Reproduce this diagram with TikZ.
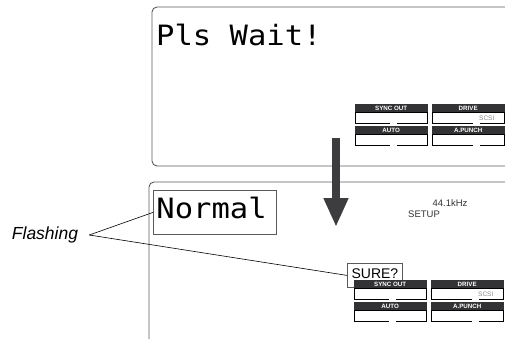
\documentclass[tikz,border=0pt]{standalone}
\usepackage{fontspec}
\setmainfont{Liberation Sans}
\newfontfamily\lcdfont{DejaVu Sans Mono}[FakeStretch=1.09]
\definecolor{lcdLine}{HTML}{5A5A5A}
\definecolor{lcdDark}{HTML}{333335}
\definecolor{lcdArrow}{HTML}{3D3D40}
\definecolor{lcdGrey}{HTML}{8A8A8A}
\usetikzlibrary{calc,positioning,arrows.meta}

\begin{document}
\begin{tikzpicture}[x=1pt, y=-1pt,
  lcdtext/.style={font=\lcdfont\fontsize{28}{30}\selectfont, inner sep=0pt},
  header/.style={fill=lcdDark, draw=lcdDark, text=white, minimum width=72pt, minimum height=8pt,
    inner sep=0pt, font=\fontsize{6.2}{6.2}\selectfont\bfseries},
  fieldbox/.style={draw=black, line width=0.7pt, minimum width=72pt, minimum height=11pt, inner sep=0pt},
  leader/.style={draw=black, line width=0.6pt}]
  \useasboundingbox (0,0) rectangle (505,340);

  % upper display — busy message
  \draw[lcdLine, line width=0.9pt, rounded corners=5pt] (506,7) -- (152,7) -- (152,166) -- (506,166);
  \node[lcdtext, anchor=base west] (wait) at (156,45) {Pls Wait!};

  % lower display — after the process
  \draw[lcdLine, line width=0.9pt, rounded corners=5pt] (506,182) -- (149,182) -- (149,339);
  \node[lcdtext, draw=lcdLine, line width=0.8pt, anchor=north west, text width=117pt, align=left,
    inner xsep=3pt, inner ysep=8pt, text height=20pt, text depth=8pt] (normal) at (153,190) {Normal};
  \node[font=\fontsize{9.5}{10}\selectfont, text=lcdDark] (rate) at (450,203) {44.1kHz};
  \node[font=\fontsize{9.5}{10}\selectfont, text=lcdDark] (setup) at (424,214) {SETUP};
  \node[draw=lcdLine, line width=0.8pt, fill=white, anchor=north west, minimum width=55pt,
    inner xsep=0pt, inner ysep=3pt, text height=12pt, text depth=6pt,
    font=\fontsize{14}{14}\selectfont] (sure) at (347,263) {SURE?};

  % status blocks of both displays
  \foreach \nm/\bx/\by/\lab/\gx in {syncA/355/104/SYNC OUT/35, driveA/432/104/DRIVE/41,
      autoA/355/126/AUTO/35, punchA/432/126/A.PUNCH/41,
      syncB/354/280/SYNC OUT/35, driveB/431/280/DRIVE/41,
      autoB/354/302/AUTO/35, punchB/431/302/A.PUNCH/41} {
    \node[header, anchor=north west] (\nm) at (\bx,\by) {\lab};
    \node[fieldbox, anchor=north] (\nm-f) at (\nm.south) {};
    \fill[white] ($(\nm-f.south west)+(\gx,-1.5)$) rectangle +(7,3);
  }
  \node[font=\fontsize{6.5}{6.5}\selectfont, text=lcdGrey, inner sep=0pt, anchor=east] (scsiA) at ([xshift=-10pt]driveA-f.east) {SCSI};
  \node[font=\fontsize{6.5}{6.5}\selectfont, text=lcdGrey, inner sep=0pt, anchor=east] (scsiB) at ([xshift=-10pt]driveB-f.east) {SCSI};

  % big arrow between the two states
  \coordinate (arrowFrom) at (336,138);
  \coordinate (arrowTo) at (336,227);
  \draw[lcdArrow, line width=8pt, -{Triangle[width=23pt, length=29pt]}] (arrowFrom) -- (arrowTo);

  % callout
  \node[font=\fontsize{17.5}{19}\selectfont\itshape, inner xsep=11pt] (flash) at (45,235) {Flashing};
  \draw[leader] (flash.east) -- (normal.west);
  \draw[leader] (flash.east) -- (sure.west);
\end{tikzpicture}
\end{document}
